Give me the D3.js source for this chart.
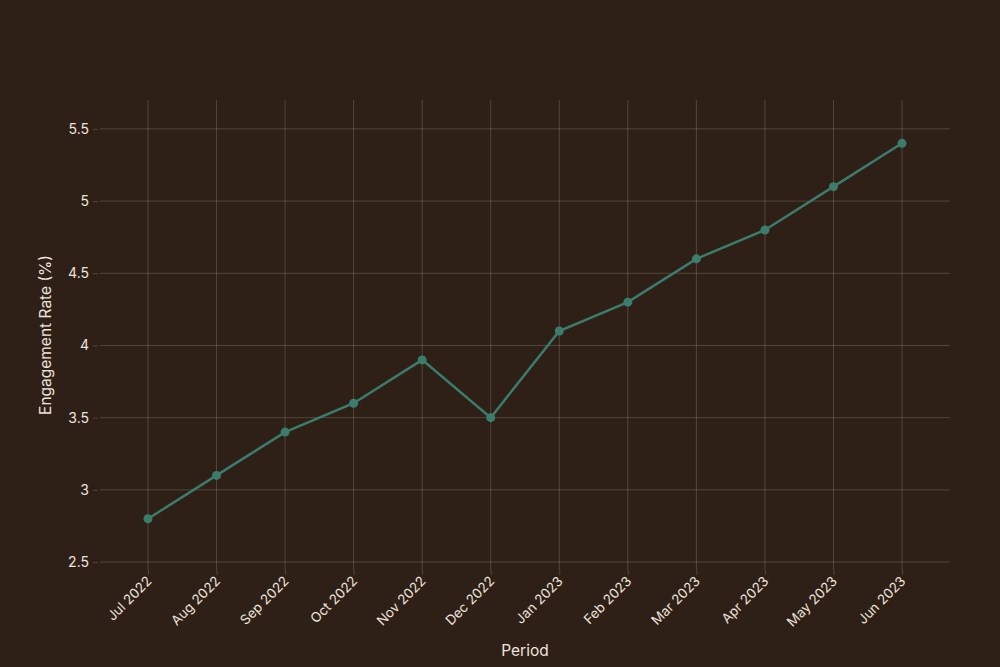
<!DOCTYPE html>
<html><head><meta charset="utf-8">
<script src="https://cdn.jsdelivr.net/npm/d3@7"></script>
<style>
html,body{margin:0;padding:0;background:#2e2016;}
svg{display:block;}
text{font-family:Inter, "Noto Sans", sans-serif;}
</style></head>
<body>
<svg id="chart" width="1000" height="667"></svg>
<script>
const periods = ["Jul 2022","Aug 2022","Sep 2022","Oct 2022","Nov 2022","Dec 2022","Jan 2023","Feb 2023","Mar 2023","Apr 2023","May 2023","Jun 2023"];
const engagement = [2.8,3.1,3.4,3.6,3.9,3.5,4.1,4.3,4.6,4.8,5.1,5.4];
const yTicks = [2.5,3,3.5,4,4.5,5,5.5];

const W=1000,H=667;
const m={l:100,r:50,t:100,b:97};
const svg=d3.select("#chart");
svg.append("rect").attr("width",W).attr("height",H).attr("fill","#2e2016");

const x=d3.scalePoint().domain(periods).range([m.l,W-m.r]).padding(0.7);
const y=d3.scaleLinear().domain([2.445,5.70]).range([H-m.b,m.t]);

const textCol="#ece4dc", gridCol="rgba(255,255,255,0.17)";

// grid
const g=svg.append("g");
g.selectAll("line.h").data(yTicks).join("line")
 .attr("x1",m.l).attr("x2",W-m.r).attr("y1",d=>y(d)).attr("y2",d=>y(d))
 .attr("stroke",gridCol).attr("stroke-width",1);
g.selectAll("line.v").data(periods).join("line")
 .attr("x1",d=>x(d)).attr("x2",d=>x(d)).attr("y1",m.t).attr("y2",H-m.b)
 .attr("stroke",gridCol).attr("stroke-width",1);

// y axis
const ya=svg.append("g").attr("transform",`translate(${m.l-2},0)`)
 .call(d3.axisLeft(y).tickValues(yTicks).tickFormat(d3.format("~g")).tickSize(5).tickPadding(4));
ya.select(".domain").remove();
ya.selectAll(".tick line").attr("stroke",gridCol);
ya.selectAll(".tick text").attr("fill",textCol).style("font-size","14px");

// x axis
const xa=svg.append("g").attr("transform",`translate(0,${H-m.b})`)
 .call(d3.axisBottom(x).tickSize(5).tickPadding(4));
xa.select(".domain").remove();
xa.selectAll(".tick line").attr("stroke",gridCol);
xa.selectAll(".tick text").attr("fill",textCol).style("font-size","13.5px")
 .attr("text-anchor","end").attr("x",0).attr("y",0).attr("dy",0)
 .attr("transform","translate(4,12) rotate(-45)");

// line
svg.append("path").datum(engagement)
 .attr("d",d3.line().x((d,i)=>x(periods[i])).y(d=>y(d)))
 .attr("fill","none").attr("stroke","#3b7c6c").attr("stroke-width",2.5);
svg.selectAll("circle.pt").data(engagement).join("circle")
 .attr("cx",(d,i)=>x(periods[i])).attr("cy",d=>y(d)).attr("r",4.5)
 .attr("fill","#3b7c6c");

// titles
svg.append("text").attr("x",(m.l+W-m.r)/2).attr("y",656).attr("text-anchor","middle")
 .attr("fill",textCol).style("font-size","15.5px").text("Period");
svg.append("text").attr("transform",`translate(51,${(m.t+H-m.b)/2}) rotate(-90)`)
 .attr("text-anchor","middle").attr("fill",textCol).style("font-size","15.5px").text("Engagement Rate (%)");
</script>
</body></html>
